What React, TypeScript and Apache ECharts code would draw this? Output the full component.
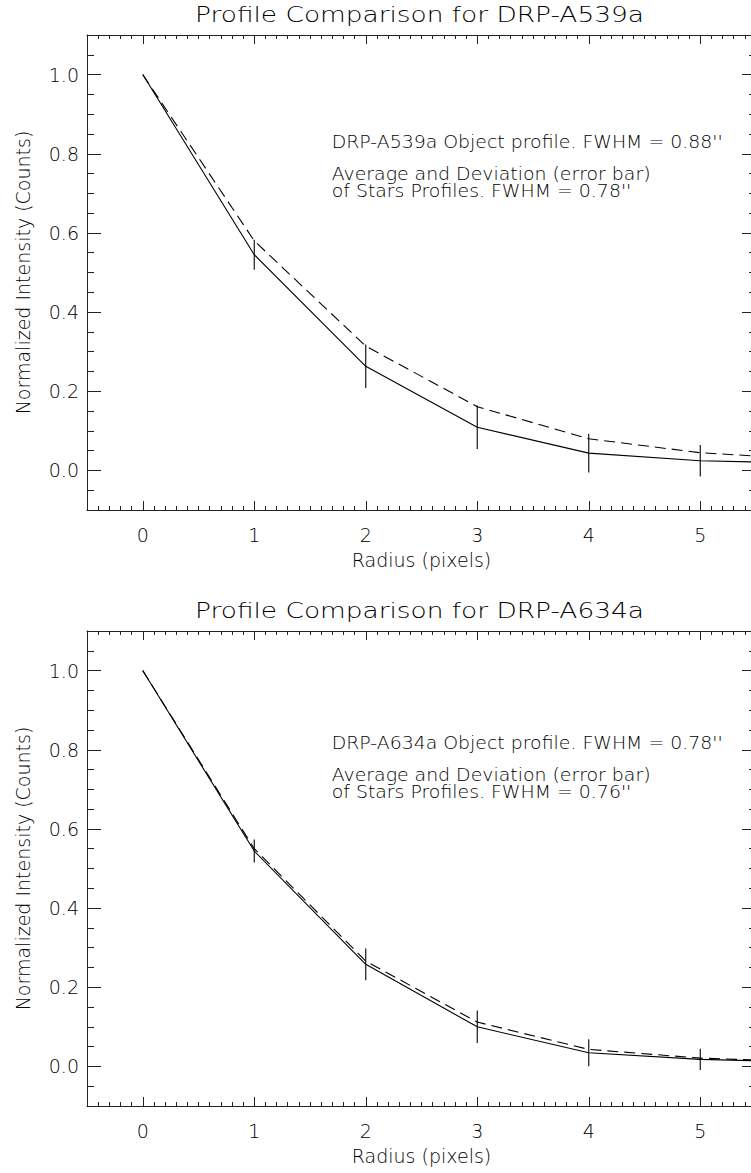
import React, { useEffect, useRef } from "react";
import * as echarts from "echarts";

// ---- data ----
const radius = [0, 1, 2, 3, 4, 5, 6];
const xMajorTicks = [0, 1, 2, 3, 4, 5];
const yMajorTicks = [0, 0.2, 0.4, 0.6, 0.8, 1.0];
const errRadius = [1, 2, 3, 4, 5];

const titleA539 = "Profile Comparison for DRP-A539a";
const objLabelA539 = "DRP-A539a Object profile. FWHM = 0.88''";
const starsLabelA539 = ["Average and Deviation (error bar)", "of Stars Profiles. FWHM = 0.78''"];
const objA539 = [1.0, 0.58, 0.314, 0.161, 0.08, 0.0446, 0.028];
const starsA539 = [1.0, 0.545, 0.263, 0.109, 0.0437, 0.0244, 0.018];
const errA539 = [0.038, 0.055, 0.055, 0.049, 0.04];

const titleA634 = "Profile Comparison for DRP-A634a";
const objLabelA634 = "DRP-A634a Object profile. FWHM = 0.78''";
const starsLabelA634 = ["Average and Deviation (error bar)", "of Stars Profiles. FWHM = 0.76''"];
const objA634 = [1.0, 0.55, 0.266, 0.112, 0.043, 0.021, 0.011];
const starsA634 = [1.0, 0.544, 0.258, 0.1, 0.0345, 0.0177, 0.011];
const errA634 = [0.029, 0.04, 0.041, 0.034, 0.027];

const xTitle = "Radius (pixels)";
const yTitle = "Normalized Intensity (Counts)";

const FONT = "DejaVu Sans";
const FW = 200;
const AX = "#222";

const GRID_LEFT = 87;
const GRID_W = 669;
const GRID_H = 475;
const PANEL_TOPS = [35, 631];

function xAxes(g: number) {
  const base = { type: "value", gridIndex: g, min: -0.5, max: 5.5, splitLine: { show: false } };
  const major = (pos: string, labels: boolean) => ({
    ...base,
    position: pos,
    axisLine: { show: true, onZero: false, lineStyle: { color: AX, width: 1 } },
    axisTick: { show: true, inside: true, length: 9, customValues: xMajorTicks, lineStyle: { color: AX, width: 1 } },
    axisLabel: labels
      ? { show: true, customValues: xMajorTicks, margin: 15, fontSize: 19, fontFamily: FONT, fontWeight: FW, color: "#000", formatter: (v: number) => String(Math.round(v)) }
      : { show: false },
    ...(labels
      ? { name: xTitle, nameLocation: "middle", nameGap: 40, nameTextStyle: { fontSize: 19, fontFamily: FONT, fontWeight: FW, color: "#000" } }
      : {}),
  });
  const minor = (pos: string) => ({
    ...base,
    position: pos,
    interval: 0.1,
    axisLine: { show: false, onZero: false },
    axisTick: { show: true, inside: true, length: 4, lineStyle: { color: AX, width: 1 } },
    axisLabel: { show: false },
  });
  return [major("bottom", true), minor("bottom"), major("top", false), minor("top")];
}

function yAxes(g: number) {
  const base = { type: "value", gridIndex: g, min: -0.1, max: 1.1, splitLine: { show: false } };
  const major = (pos: string, labels: boolean) => ({
    ...base,
    position: pos,
    axisLine: { show: true, onZero: false, lineStyle: { color: AX, width: 1 } },
    axisTick: { show: true, inside: true, length: 14, customValues: yMajorTicks, lineStyle: { color: AX, width: 1 } },
    axisLabel: labels
      ? { show: true, customValues: yMajorTicks, margin: 8, fontSize: 19, fontFamily: FONT, fontWeight: FW, color: "#000", formatter: (v: number) => v.toFixed(1) }
      : { show: false },
    ...(labels
      ? { name: yTitle, nameLocation: "middle", nameGap: 55, nameRotate: 90, nameTextStyle: { fontSize: 19, fontFamily: FONT, fontWeight: FW, color: "#000" } }
      : {}),
  });
  const minor = (pos: string) => ({
    ...base,
    position: pos,
    interval: 0.05,
    axisLine: { show: false, onZero: false },
    axisTick: { show: true, inside: true, length: 7, lineStyle: { color: AX, width: 1 } },
    axisLabel: { show: false },
  });
  return [major("left", true), minor("left"), major("right", false), minor("right")];
}

function panelSeries(g: number, stars: number[], obj: number[], err: number[]) {
  const ax = g * 4;
  return [
    {
      type: "line",
      xAxisIndex: ax,
      yAxisIndex: ax,
      data: radius.map((r, i) => [r, stars[i]]),
      symbol: "none",
      lineStyle: { color: "#000", width: 1.1 },
      clip: true,
      silent: true,
    },
    {
      type: "line",
      xAxisIndex: ax,
      yAxisIndex: ax,
      data: radius.map((r, i) => [r, obj[i]]),
      symbol: "none",
      lineStyle: { color: "#000", width: 1.1, type: [11, 6] },
      clip: true,
      silent: true,
    },
    {
      type: "custom",
      xAxisIndex: ax,
      yAxisIndex: ax,
      data: errRadius.map((r, i) => [r, stars[radius.indexOf(r)], err[i]]),
      renderItem: (_p: any, api: any) => {
        const x = api.value(0);
        const y = api.value(1);
        const e = api.value(2);
        const a = api.coord([x, y - e]);
        const b = api.coord([x, y + e]);
        return {
          type: "line",
          shape: { x1: a[0], y1: a[1], x2: b[0], y2: b[1] },
          style: { stroke: "#000", lineWidth: 1.1 },
        };
      },
      silent: true,
    },
  ];
}

function textEl(text: string, x: number, y: number, size: number, sx: number, align: string) {
  return {
    type: "text",
    x,
    y,
    scaleX: sx,
    silent: true,
    style: {
      text,
      fontSize: size,
      fontFamily: FONT,
      fontWeight: FW,
      fill: "#000",
      align,
      textAlign: align,
      verticalAlign: "middle",
      textVerticalAlign: "middle",
    },
  };
}

function panelGraphics(top: number, title: string, objLabel: string, starsLabel: string[], dy: number) {
  const cx = 419.5;
  return [
    textEl(title, cx, top - 21, 22, 1.2, "center"),
    textEl(objLabel, 331.7, top + 107 + dy, 18, 1.05, "left"),
    textEl(starsLabel[0], 331.7, top + 139 + dy, 18, 1.05, "left"),
    textEl(starsLabel[1], 331.7, top + 156 + dy, 18, 1.05, "left"),
  ];
}

export default function App() {
  const ref = useRef<HTMLDivElement>(null);
  useEffect(() => {
    document.body.style.margin = "0";
    if (!ref.current) return;
    const chart = echarts.init(ref.current, null, { renderer: "svg" });
    const option: any = {
      animation: false,
      backgroundColor: "#fff",
      grid: PANEL_TOPS.map((t) => ({
        left: GRID_LEFT,
        top: t,
        width: GRID_W,
        height: GRID_H,
        containLabel: false,
        outerBoundsMode: "none",
      })),
      xAxis: [...xAxes(0), ...xAxes(1)],
      yAxis: [...yAxes(0), ...yAxes(1)],
      series: [
        ...panelSeries(0, starsA539, objA539, errA539),
        ...panelSeries(1, starsA634, objA634, errA634),
      ],
      graphic: [
        ...panelGraphics(PANEL_TOPS[0], titleA539, objLabelA539, starsLabelA539, 0),
        ...panelGraphics(PANEL_TOPS[1], titleA634, objLabelA634, starsLabelA634, 5),
      ],
    };
    chart.setOption(option);
    return () => chart.dispose();
  }, []);
  return <div ref={ref} style={{ width: 751, height: 1173 }} />;
}
